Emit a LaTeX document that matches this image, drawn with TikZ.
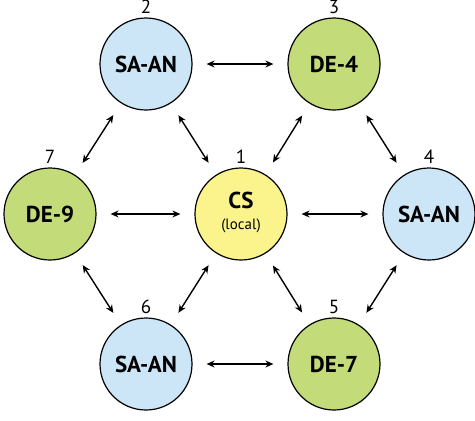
\documentclass[tikz,border=0pt]{standalone}
\usepackage{fontspec}
\setmainfont{PT Sans}
\usetikzlibrary{arrows.meta}
\definecolor{siteblue}{RGB}{204,230,247}
\definecolor{sitegreen}{RGB}{196,219,122}
\definecolor{siteyellow}{RGB}{251,244,141}
\begin{document}
\begin{tikzpicture}[x=1pt, y=-1pt,
  site/.style={draw, line width=1.2pt, circle, minimum size=92pt, inner sep=0pt, font=\fontsize{23}{26}\selectfont\bfseries},
  num/.style={label={[label distance=0pt, font=\fontsize{19}{22}\selectfont]above:#1}},
  link/.style={{Stealth[length=8pt,width=7pt]}-{Stealth[length=8pt,width=7pt]}, line width=1.4pt, shorten <=14pt, shorten >=14pt}]
\useasboundingbox (0,0) rectangle (475,421);
% ring of sites
\node[site, fill=siteyellow, num=1] (cs) at (241,214) {\begin{tabular}{@{}c@{}}CS\\[-5pt]{\fontsize{15}{17}\selectfont\mdseries (local)}\end{tabular}};
\node[site, fill=siteblue, num=2] (s2) at (146,64) {SA-AN};
\node[site, fill=sitegreen, num=3] (s3) at (334,64) {DE-4};
\node[site, fill=siteblue, num=4] (s4) at (429,214) {SA-AN};
\node[site, fill=sitegreen, num=5] (s5) at (334,364) {DE-7};
\node[site, fill=siteblue, num=6] (s6) at (146,364) {SA-AN};
\node[site, fill=sitegreen, num=7] (s7) at (50,214) {DE-9};
% links
\draw[link] (s2) -- (s3);
\draw[link] (s3) -- (s4);
\draw[link] (s4) -- (s5);
\draw[link] (s5) -- (s6);
\draw[link] (s6) -- (s7);
\draw[link] (s7) -- (s2);
\draw[link] (cs) -- (s2);
\draw[link] (cs) -- (s3);
\draw[link] (cs) -- (s4);
\draw[link] (cs) -- (s5);
\draw[link] (cs) -- (s6);
\draw[link] (cs) -- (s7);
\end{tikzpicture}
\end{document}
